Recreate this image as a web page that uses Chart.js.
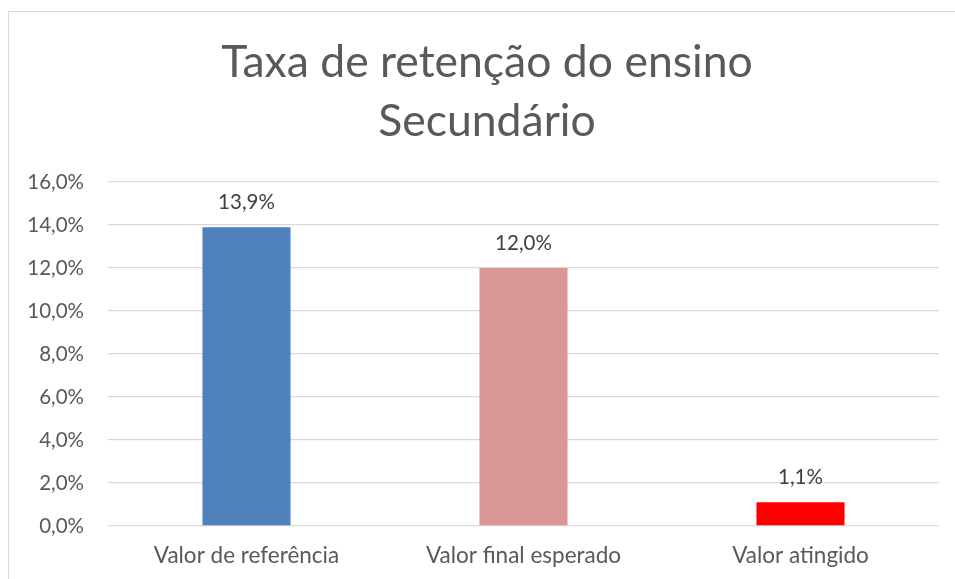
<!DOCTYPE html>
<html>
<head>
<meta charset="utf-8">
<script src="https://cdn.jsdelivr.net/npm/chart.js@4"></script>
<style>
  html, body { margin: 0; padding: 0; background: #fff; }
  #wrap { position: relative; width: 955px; height: 579px; overflow: hidden; }
  #frame { position: absolute; left: 8px; top: 11px; width: 1000px; height: 700px; border: 1.5px solid #d9d9d9; }
  #chart { position: absolute; left: 0; top: 0; }
</style>
</head>
<body>
<div id="wrap">
  <div id="frame"></div>
  <canvas id="chart" width="955" height="579"></canvas>
</div>
<script>
const titleLines = ['Taxa de retenção do ensino', 'Secundário'];
const categories = ['Valor de referência', 'Valor final esperado', 'Valor atingido'];
const values = [13.9, 12.0, 1.1];
const barColors = ['#4F81BD', '#D99694', '#FF0000'];
const yMax = 16;
const yStep = 2;

const fontFamily = 'Lato, "Open Sans", sans-serif';

// format like 13,9%
function pct(v) {
    return v.toFixed(1).replace('.', ',') + '%';
}

// draw value labels above the bars
const valueLabels = {
    id: 'valueLabels',
    afterDatasetsDraw(chart) {
        const ctx = chart.ctx;
        const meta = chart.getDatasetMeta(0);
        ctx.save();
        ctx.font = '20.5px ' + fontFamily;
        ctx.fillStyle = '#404040';
        ctx.textAlign = 'center';
        ctx.textBaseline = 'middle';
        meta.data.forEach((bar, i) => {
            ctx.fillText(pct(values[i]), bar.x, bar.y - 25);
        });
        ctx.restore();
    }
};

// centre the title over the whole frame instead of the padded canvas
const titleShift = {
    id: 'titleShift',
    afterLayout(chart) {
        if (chart.titleBlock) {
            chart.titleBlock.left += 35;
        }
    }
};

const ctx = document.getElementById('chart').getContext('2d');
new Chart(ctx, {
    type: 'bar',
    data: {
        labels: categories,
        datasets: [{
            data: values,
            backgroundColor: barColors,
            borderWidth: 0,
            categoryPercentage: 1,
            barPercentage: 0.318
        }]
    },
    options: {
        responsive: false,
        animation: false,
        layout: { padding: { left: 0, right: 16, top: 0, bottom: 0 } },
        plugins: {
            legend: { display: false },
            tooltip: { enabled: false },
            title: {
                display: true,
                text: titleLines,
                color: '#595959',
                font: { family: fontFamily, size: 44.5, weight: 'normal', lineHeight: 1.326 },
                padding: { top: 33, bottom: 31 }
            }
        },
        scales: {
            x: {
                afterFit(scale) { scale.height = 53; },
                grid: { display: false, drawTicks: false },
                border: { display: false },
                ticks: {
                    color: '#595959',
                    font: { family: fontFamily, size: 22.5, lineHeight: 1.2 },
                    padding: 16
                }
            },
            y: {
                min: 0,
                max: yMax,
                afterFit(scale) { scale.width = 108; },
                grid: { color: '#d9d9d9', lineWidth: 1.3, drawTicks: false },
                border: { display: false },
                ticks: {
                    stepSize: yStep,
                    color: '#595959',
                    font: { family: fontFamily, size: 20.5 },
                    padding: 24,
                    callback: v => pct(v)
                }
            }
        }
    },
    plugins: [valueLabels, titleShift]
});
</script>
</body>
</html>
